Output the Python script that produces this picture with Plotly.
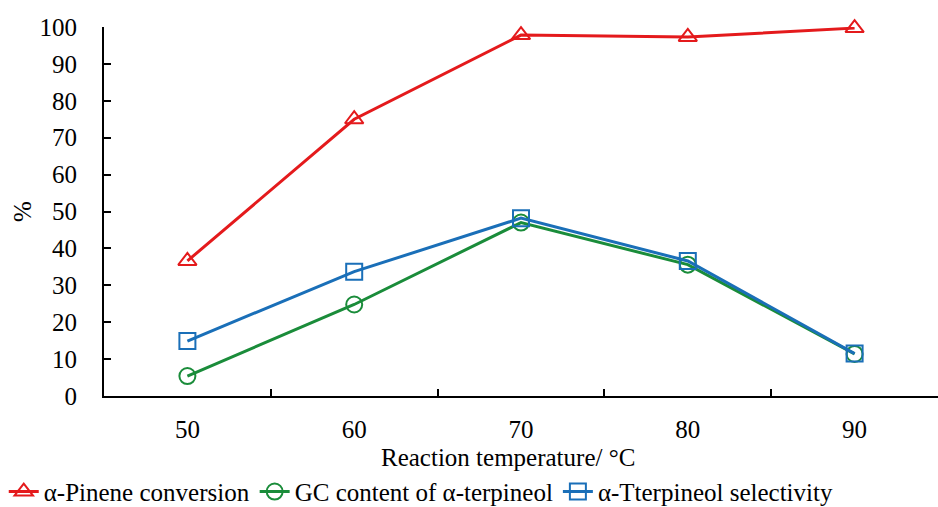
import plotly.graph_objects as go

temps = ["50", "60", "70", "80", "90"]
conversion = [36.6, 75.0, 97.8, 97.3, 99.7]
gc_content = [5.4, 24.8, 47.0, 35.6, 11.4]
selectivity = [14.9, 33.7, 48.2, 36.6, 11.5]
y_ticks = [0, 10, 20, 30, 40, 50, 60, 70, 80, 90, 100]

FONT = "Times New Roman, Liberation Serif, serif"
FS = 25

fig = go.Figure()
fig.add_trace(go.Scatter(
    x=temps, y=conversion, name="α-Pinene conversion", mode="lines+markers",
    line=dict(color="#e41a1c", width=3), cliponaxis=False,
    marker=dict(symbol="triangle-up-open", size=16, color="#e41a1c", line=dict(width=2))))
fig.add_trace(go.Scatter(
    x=temps, y=gc_content, name="GC content of α-terpineol", mode="lines+markers",
    line=dict(color="#1a8c3a", width=3), cliponaxis=False,
    marker=dict(symbol="circle-open", size=16, color="#1a8c3a", line=dict(width=2))))
fig.add_trace(go.Scatter(
    x=temps, y=selectivity, name="α-Tterpineol selectivity", mode="lines+markers",
    line=dict(color="#1a6fb8", width=3), cliponaxis=False,
    marker=dict(symbol="square-open", size=16, color="#1a6fb8", line=dict(width=2))))

fig.update_layout(
    width=938, height=507,
    margin=dict(l=104, r=0, t=27, b=111, autoexpand=False),
    paper_bgcolor="white", plot_bgcolor="white",
    font=dict(family=FONT, size=FS, color="black"),
    showlegend=True,
    legend=dict(orientation="h", xref="container", x=0.004, xanchor="left",
                yref="container", y=0.03, yanchor="middle",
                font=dict(family=FONT, size=FS, color="black"),
                itemwidth=30, tracegroupgap=0, bgcolor="rgba(0,0,0,0)"),
    annotations=[dict(text="Reaction temperature/ °C", xref="paper", yref="paper",
                      x=0.484, y=-0.168, xanchor="center", yanchor="middle", showarrow=False,
                      font=dict(family=FONT, size=FS, color="black"))],
)
fig.update_xaxes(
    type="category", range=[-0.5, 4.5], automargin=False,
    showline=True, linecolor="black", linewidth=2,
    ticks="inside", tickson="boundaries", ticklen=7, tickwidth=2, tickcolor="black",
    showgrid=False, zeroline=False, ticklabelstandoff=10,
    tickfont=dict(family=FONT, size=FS, color="black"),
)
fig.update_yaxes(
    range=[0, 100], tickvals=y_ticks, automargin=False,
    showline=True, linecolor="black", linewidth=2,
    ticks="inside", ticklen=7, tickwidth=2, tickcolor="black",
    showgrid=False, zeroline=False, ticklabelstandoff=20,
    tickfont=dict(family=FONT, size=FS, color="black"),
    title=dict(text="%", font=dict(family=FONT, size=FS, color="black"), standoff=1),
)
fig.write_html("out.html")
